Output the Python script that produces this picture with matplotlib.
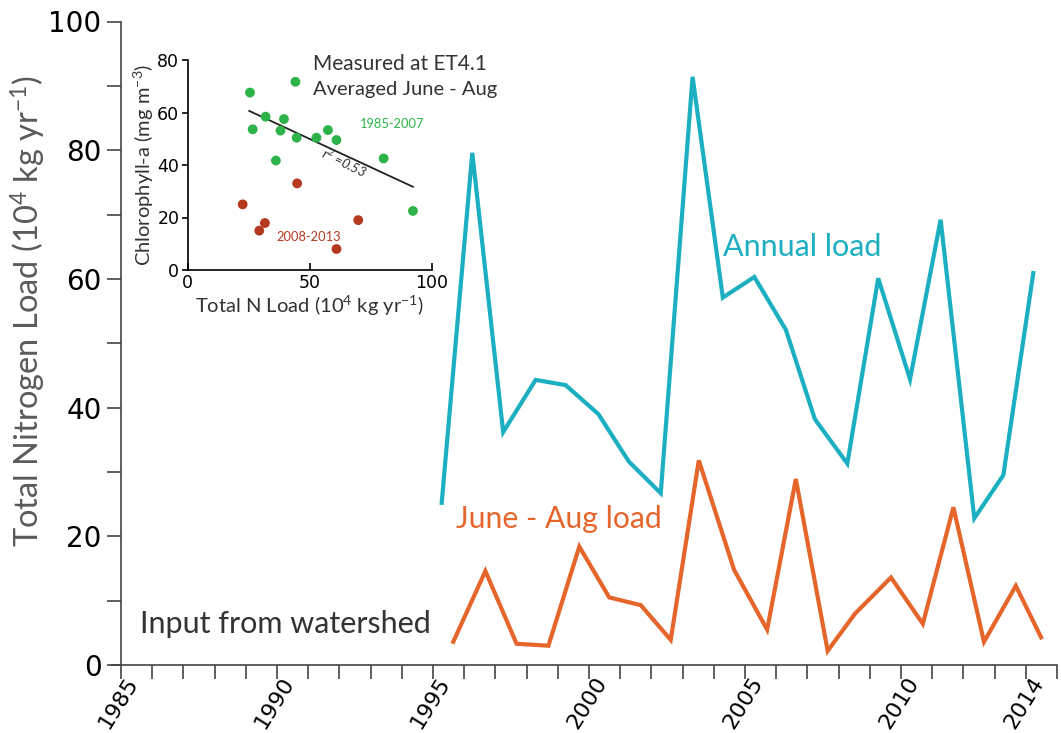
import matplotlib
matplotlib.use("Agg")
import matplotlib.pyplot as plt
import matplotlib.transforms as mtrans
import numpy as np

# ---------------- data ----------------
annual_x = [1995.28, 1996.26, 1997.25, 1998.29, 1999.25, 2000.30, 2001.28, 2002.30,
            2003.32, 2004.29, 2005.30, 2006.31, 2007.24, 2008.28, 2009.27, 2010.29,
            2011.27, 2012.35, 2013.28, 2014.24]
annual_load = [25.2, 79.6, 36.2, 44.3, 43.5, 39.0, 31.6, 26.7, 91.4, 57.1,
               60.3, 52.1, 38.2, 31.3, 60.1, 44.4, 69.2, 22.8, 29.5, 60.9]

summer_x = [1995.65, 1996.68, 1997.68, 1998.70, 1999.69, 2000.65, 2001.66, 2002.62,
            2003.52, 2004.65, 2005.71, 2006.63, 2007.65, 2008.53, 2009.68, 2010.70,
            2011.68, 2012.66, 2013.68, 2014.49]
summer_load = [3.6, 14.6, 3.3, 3.0, 18.4, 10.5, 9.3, 3.9, 31.8, 14.8,
               5.5, 28.9, 2.2, 8.0, 13.6, 6.4, 24.5, 3.6, 12.3, 4.3]

x_ticklabels = ["1985", "1990", "1995", "2000", "2005", "2010", "2014"]
x_tickyears = [1985, 1990, 1995, 2000, 2005, 2010, 2014]

# inset scatter data (Total N load vs chlorophyll-a)
green_n = [25.5, 44.1, 26.6, 31.9, 39.4, 38.0, 44.6, 52.7, 57.4, 60.9, 36.1, 80.2, 92.2]
green_chl = [67.6, 71.7, 53.6, 58.4, 57.5, 53.1, 50.4, 50.4, 53.3, 49.5, 41.7, 42.5, 22.5]
red_n = [44.8, 22.5, 31.6, 29.3, 69.8, 60.9]
red_chl = [33.0, 25.0, 17.9, 15.0, 19.0, 8.0]
trend_n = [25.2, 92.2]
trend_chl = [60.6, 31.7]

TEAL = "#1BAFC1"
ORANGE = "#E5652A"
GREEN = "#2DB34A"
RED = "#B5391F"

plt.rcParams["mathtext.fontset"] = "custom"
plt.rcParams["mathtext.rm"] = "Lato"
plt.rcParams["mathtext.it"] = "Lato:italic"
plt.rcParams["mathtext.bf"] = "Lato:bold"

fig = plt.figure(figsize=(10.61, 7.33), dpi=100)
W, H = 1061, 733

# ---------------- main axes ----------------
x0, x1 = 111.6, 1057
y0, y1 = 665, 21.5
ax = fig.add_axes([x0 / W, (H - y0) / H, (x1 - x0) / W, (y0 - y1) / H])
ax.set_xlim(1984.7, 2015)
ax.set_ylim(0, 100)

ax.plot(annual_x, annual_load, color=TEAL, lw=3.0, solid_joinstyle="miter")
ax.plot(summer_x, summer_load, color=ORANGE, lw=3.0, solid_joinstyle="miter")

for s in ["top", "right"]:
    ax.spines[s].set_visible(False)
ax.spines["left"].set_position(("data", 1985))
ax.spines["left"].set_color("#444444")
ax.spines["bottom"].set_color("#444444")
ax.spines["left"].set_linewidth(1.2)
ax.spines["bottom"].set_linewidth(1.2)

ax.set_yticks([0, 20, 40, 60, 80, 100])
ax.set_yticks(np.arange(10, 100, 20), minor=True)
ax.tick_params(axis="y", which="major", direction="out", length=10, width=1.2,
               labelsize=20, pad=4, color="#444444")
ax.tick_params(axis="y", which="minor", direction="out", length=10, width=1.2,
               color="#444444")

ax.set_xticks(x_tickyears)
ax.set_xticklabels(x_ticklabels)
ax.set_xticks(np.arange(1985, 2016, 1), minor=True)
ax.tick_params(axis="x", which="both", direction="out", length=10, width=1.2,
               color="#444444")
ax.tick_params(axis="x", which="major", labelsize=16, pad=0)
offset = mtrans.ScaledTranslation(13 / 100, 0 / 100, fig.dpi_scale_trans)
for lab in ax.get_xticklabels():
    lab.set_rotation(58)
    lab.set_ha("right")
    lab.set_va("center")
    lab.set_rotation_mode("anchor")
    lab.set_transform(lab.get_transform() + offset)

fig.text(28 / W, 1 - 311 / H, r"Total Nitrogen Load (10$^{4}$ kg yr$^{-1}$)",
         rotation=90, ha="center", va="center", fontsize=23.5, color="#5a5a5a",
         family="Lato")

ax.text(2004.28, 63.6, "Annual load", color=TEAL, fontsize=22, family="Lato",
        ha="left", va="baseline")
ax.text(1995.74, 21.3, "June - Aug load", color=ORANGE, fontsize=21.7, family="Lato",
        ha="left", va="baseline")
ax.text(1985.6, 5.0, "Input from watershed", color="#333333", fontsize=22,
        family="Lato", ha="left", va="baseline")

# ---------------- inset ----------------
ix0, ix1 = 187.7, 432
iy0, iy1 = 270, 60
ins = fig.add_axes([ix0 / W, (H - iy0) / H, (ix1 - ix0) / W, (iy0 - iy1) / H])
ins.set_facecolor("none")
ins.set_xlim(0, 100)
ins.set_ylim(0, 80)
for s in ["top", "right"]:
    ins.spines[s].set_visible(False)
ins.spines["left"].set_linewidth(1.2)
ins.spines["bottom"].set_linewidth(1.2)
ins.set_xticks([0, 50, 100])
ins.set_yticks([0, 20, 40, 60, 80])
ins.tick_params(axis="x", direction="in", length=5, width=1.2, labelsize=12.5, pad=3)
ins.tick_params(axis="y", direction="out", length=4, width=1.2, labelsize=12.5, pad=2)

ins.scatter(green_n, green_chl, s=50, color=GREEN, edgecolor="none", zorder=3)
ins.scatter(red_n, red_chl, s=50, color=RED, edgecolor="none", zorder=3)
ins.plot(trend_n, trend_chl, color="#222222", lw=1.3, zorder=2)

ins.set_xlabel(r"Total N Load (10$^{4}$ kg yr$^{-1}$)", fontsize=14.5, family="Lato",
               color="#333333", labelpad=1)
ins.set_ylabel(r"Chlorophyll-a (mg m$^{-3}$)", fontsize=14.5, family="Lato",
               color="#333333", labelpad=1)

ins.text(51.4, 78.5, "Measured at ET4.1", fontsize=15, family="Lato",
         color="#333333", ha="left", va="center")
ins.text(51.4, 68.6, "Averaged June - Aug", fontsize=14.5, family="Lato",
         color="#333333", ha="left", va="center")
ins.text(70.4, 55.8, "1985-2007", fontsize=9.3, family="Lato", color=GREEN,
         ha="left", va="center")
ins.text(36.3, 12.7, "2008-2013", fontsize=9.3, family="Lato", color=RED,
         ha="left", va="center")
ins.text(64.0, 41.0, r"r$^{2}$ =0.53", fontsize=9.5, family="Lato", style="italic",
         color="#333333", ha="center", va="center", rotation=-26)

fig.savefig("out.png", dpi=100)
